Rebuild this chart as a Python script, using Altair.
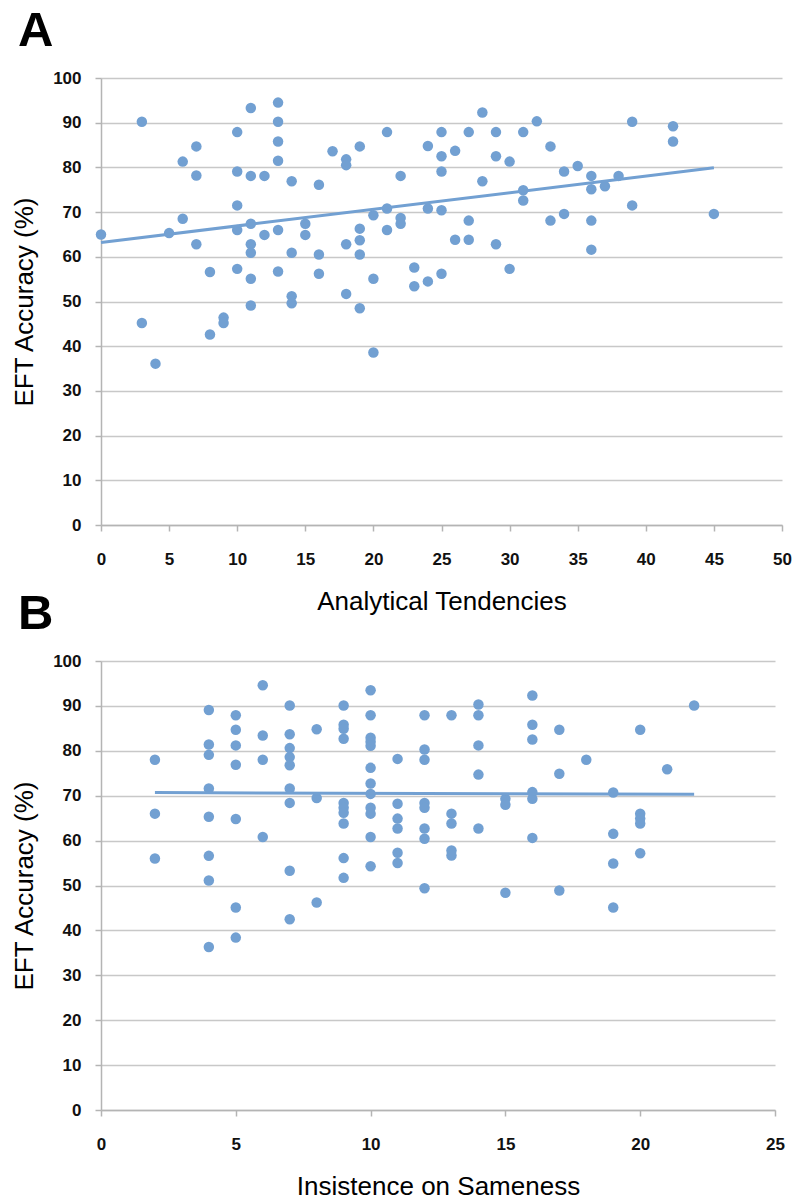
import altair as alt
import pandas as pd

# Panel A: analytical tendency score vs. EFT accuracy
analytical = [0, 3, 3, 4, 5, 6, 6, 7, 7, 7, 8, 8, 9, 9,
              10, 10, 10, 10, 10, 11, 11, 11, 11, 11, 11, 11, 12, 12,
              13, 13, 13, 13, 13, 13, 14, 14, 14, 14, 15, 15, 16, 16, 16, 17,
              18, 18, 18, 18, 19, 19, 19, 19, 19, 20, 20, 20, 21, 21, 21,
              22, 22, 22, 23, 23, 24, 24, 24, 25, 25, 25, 25, 25, 26, 26,
              27, 27, 27, 28, 28, 29, 29, 29, 30, 30, 31, 31, 31, 32, 33, 33,
              34, 34, 35, 36, 36, 36, 36, 37, 38, 39, 39, 42, 42, 45]
accuracy_a = [65.0, 90.2, 45.2, 36.1, 65.3, 81.3, 68.5, 84.7, 78.2, 62.8, 56.6, 42.6, 46.4, 45.2,
              87.9, 79.1, 71.5, 66.0, 57.3, 93.3, 78.1, 67.4, 62.8, 60.9, 55.1, 49.1, 78.1, 64.9,
              94.5, 90.2, 85.8, 81.5, 66.0, 56.7, 76.9, 60.9, 51.2, 49.6, 67.4, 64.9, 76.1, 60.5, 56.2, 83.6,
              81.8, 80.5, 62.8, 51.7, 84.7, 66.3, 63.7, 60.5, 48.5, 69.3, 55.1, 38.6, 87.9, 70.8, 66.0,
              78.1, 68.7, 67.4, 57.6, 53.4, 84.8, 70.8, 54.5, 87.9, 82.5, 79.1, 70.4, 56.2, 83.7, 63.8,
              87.9, 68.1, 63.8, 92.3, 76.9, 87.9, 82.5, 62.8, 81.3, 57.3, 87.9, 74.9, 72.6, 90.3, 84.7, 68.1,
              79.1, 69.6, 80.3, 78.1, 75.1, 68.1, 61.6, 75.8, 78.1, 90.2, 71.5, 89.2, 85.8, 69.6]
# linear trend line of panel A (end points)
trend_a_x = [0, 45]
trend_a_y = [63.2, 79.9]

# Panel B: insistence-on-sameness score vs. EFT accuracy
sameness = [2, 2, 2,
            4, 4, 4, 4, 4, 4, 4, 4,
            5, 5, 5, 5, 5, 5, 5,
            6, 6, 6, 6,
            7, 7, 7, 7, 7, 7, 7, 7, 7,
            8, 8, 8,
            9, 9, 9, 9, 9, 9, 9, 9, 9, 9,
            10, 10, 10, 10, 10, 10, 10, 10, 10, 10, 10, 10,
            11, 11, 11, 11, 11, 11,
            12, 12, 12, 12, 12, 12, 12, 12,
            13, 13, 13, 13, 13,
            14, 14, 14, 14, 14,
            15, 15, 15,
            16, 16, 16, 16, 16, 16,
            17, 17, 17,
            18,
            19, 19, 19, 19,
            20, 20, 20, 20, 20,
            21,
            22]
accuracy_b = [78.0, 66.0, 56.0,
              89.1, 81.4, 79.1, 71.6, 65.3, 56.6, 51.1, 36.3,
              87.9, 84.7, 81.2, 76.9, 64.8, 45.1, 38.4,
              94.6, 83.4, 78.0, 60.8,
              90.1, 83.7, 80.6, 78.6, 76.8, 71.6, 68.4, 53.3, 42.5,
              84.8, 69.5, 46.2,
              90.1, 85.8, 84.9, 82.7, 68.4, 67.3, 66.2, 63.8, 56.1, 51.7,
              93.5, 87.9, 82.9, 82.0, 81.1, 76.2, 72.7, 70.4, 67.3, 66.0, 60.8, 54.3,
              78.2, 68.2, 64.9, 62.7, 57.3, 55.0,
              87.9, 80.3, 78.0, 68.4, 67.3, 62.7, 60.4, 49.4,
              87.9, 66.0, 63.8, 57.8, 56.7,
              90.3, 87.9, 81.2, 74.7, 62.7,
              69.3, 68.0, 48.4,
              92.3, 85.8, 82.5, 70.8, 69.3, 60.6,
              84.7, 74.9, 48.9,
              78.0,
              70.7, 61.5, 54.9, 45.1,
              84.7, 66.0, 64.9, 63.8, 57.2,
              75.9,
              90.1]
# linear trend line of panel B (end points)
trend_b_x = [2, 22]
trend_b_y = [70.7, 70.3]

BLUE = "#72A0D2"
FONT = "Liberation Sans"


def panel(xs, ys, tx, ty, x_title, x_max, letter, w, h):
    df = pd.DataFrame({"score": xs, "eft": ys})
    fit_df = pd.DataFrame({"score": tx, "eft": ty})
    x = alt.X(
        "score:Q",
        title=x_title,
        scale=alt.Scale(domain=[0, x_max], nice=False),
        axis=alt.Axis(values=list(range(0, x_max + 1, 5)), grid=False),
    )
    y = alt.Y(
        "eft:Q",
        title="EFT Accuracy (%)",
        scale=alt.Scale(domain=[0, 100], nice=False),
        axis=alt.Axis(values=list(range(0, 101, 10)), grid=True),
    )
    points = alt.Chart(df).mark_circle(size=110, color=BLUE, opacity=1).encode(x=x, y=y)
    trend = (
        alt.Chart(fit_df)
        .mark_line(color=BLUE, strokeWidth=3)
        .encode(x="score:Q", y="eft:Q")
    )
    tag = (
        alt.Chart(pd.DataFrame({"t": [letter]}))
        .mark_text(font=FONT, fontSize=49, fontWeight="bold", align="left",
                   baseline="alphabetic", color="#000000")
        .encode(text="t:N", x=alt.value(-83), y=alt.value(-32))
    )
    return alt.layer(points, trend, tag).properties(width=w, height=h)


panel_a = panel(analytical, accuracy_a, trend_a_x, trend_a_y,
                "Analytical Tendencies", 50, "A", 681, 447)
panel_b = panel(sameness, accuracy_b, trend_b_x, trend_b_y,
                "Insistence on Sameness", 25, "B", 674, 449)

chart = (
    alt.vconcat(panel_a, panel_b, spacing=136, bounds="flush")
    .properties(padding={"left": 11, "top": 7, "right": 0, "bottom": 0})
    .configure_view(stroke=None)
    .configure_axis(
        labelFont=FONT,
        labelFontSize=17,
        labelFontWeight="bold",
        labelColor="#111111",
        labelFlush=False,
        titleFont=FONT,
        titleFontSize=26,
        titleFontWeight="normal",
        titleColor="#000000",
        domainColor="#b4b4b4",
        domainWidth=1.5,
        tickColor="#b4b4b4",
        tickWidth=1.5,
        tickSize=6,
        gridColor="#c8c8c8",
        gridWidth=1.5,
    )
    .configure_axisY(labelPadding=14, titlePadding=15)
    .configure_axisX(labelPadding=20, titlePadding=21)
)

chart.save("out.html", embed_options={"renderer": "svg", "actions": False})
